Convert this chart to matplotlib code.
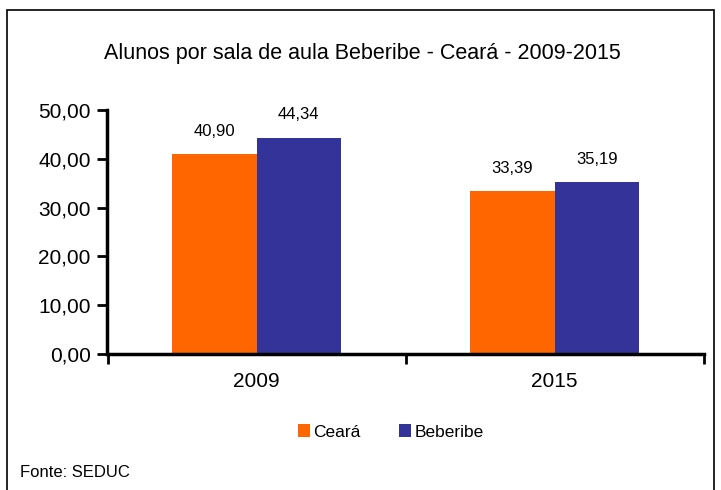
import matplotlib
matplotlib.use("Agg")
import matplotlib.pyplot as plt
from matplotlib.patches import Rectangle
import numpy as np

categories = ["2009", "2015"]
series_names = ["Ceará", "Beberibe"]
ceara = [40.90, 33.39]
beberibe = [44.34, 35.19]
colors = ["#FF6600", "#333399"]
yticks = [0, 10, 20, 30, 40, 50]

plt.rcParams['font.family'] = ['Liberation Sans', 'DejaVu Sans']

fig = plt.figure(figsize=(7.21, 4.90), dpi=100)
ax = fig.add_axes([107.5/721, 1-354/490, 596/721, 244/490])

x = np.arange(len(categories))
w = 0.284
for i, (vals, name, c) in enumerate(zip([ceara, beberibe], series_names, colors)):
    pos = x + (i - 0.5) * w
    bars = ax.bar(pos, vals, width=w, color=c, label=name, zorder=2)
    for b, v in zip(bars, vals):
        ax.annotate(f"{v:.2f}".replace(".", ","), (b.get_x() + b.get_width()/2, v),
                    xytext=(0, 11), textcoords="offset points", ha="center", va="bottom",
                    fontsize=12)

ax.set_xlim(-0.5, 1.5)
ax.set_ylim(0, 50)
ax.set_yticks(yticks)
ax.set_yticklabels([f"{t:.2f}".replace(".", ",") for t in yticks], fontsize=15)
ax.set_xticks([-0.5, 0.5, 1.5])
ax.set_xticklabels([])
ax.set_xticks(x, minor=True)
ax.set_xticklabels(categories, minor=True, fontsize=15)
ax.tick_params(axis='x', which='minor', length=0, pad=13)
ax.tick_params(axis='x', which='major', length=7, width=2, direction='out')
ax.tick_params(axis='y', length=7, width=2, direction='out', pad=5)
for s in ["top", "right"]:
    ax.spines[s].set_visible(False)
for s in ["left", "bottom"]:
    ax.spines[s].set_linewidth(2.5)

fig.text(362/721, 1-53/490, "Alunos por sala de aula Beberibe - Ceará - 2009-2015",
         ha="center", va="center", fontsize=15.5)

leg = fig.legend(loc="center", bbox_to_anchor=(391/721, 1-432/490), ncol=2, frameon=False,
                 fontsize=12.5, handlelength=0.7, handleheight=0.7, handletextpad=0.2,
                 columnspacing=2.2)

fig.text(20/721, 1-472/490, "Fonte: SEDUC", ha="left", va="center", fontsize=12)

fig.patches.append(Rectangle((7/721, -0.1), (714-7)/721, 1.1 - 10/490, transform=fig.transFigure,
                             fill=False, edgecolor="black", linewidth=1.2))

fig.savefig("out.png", dpi=100)
